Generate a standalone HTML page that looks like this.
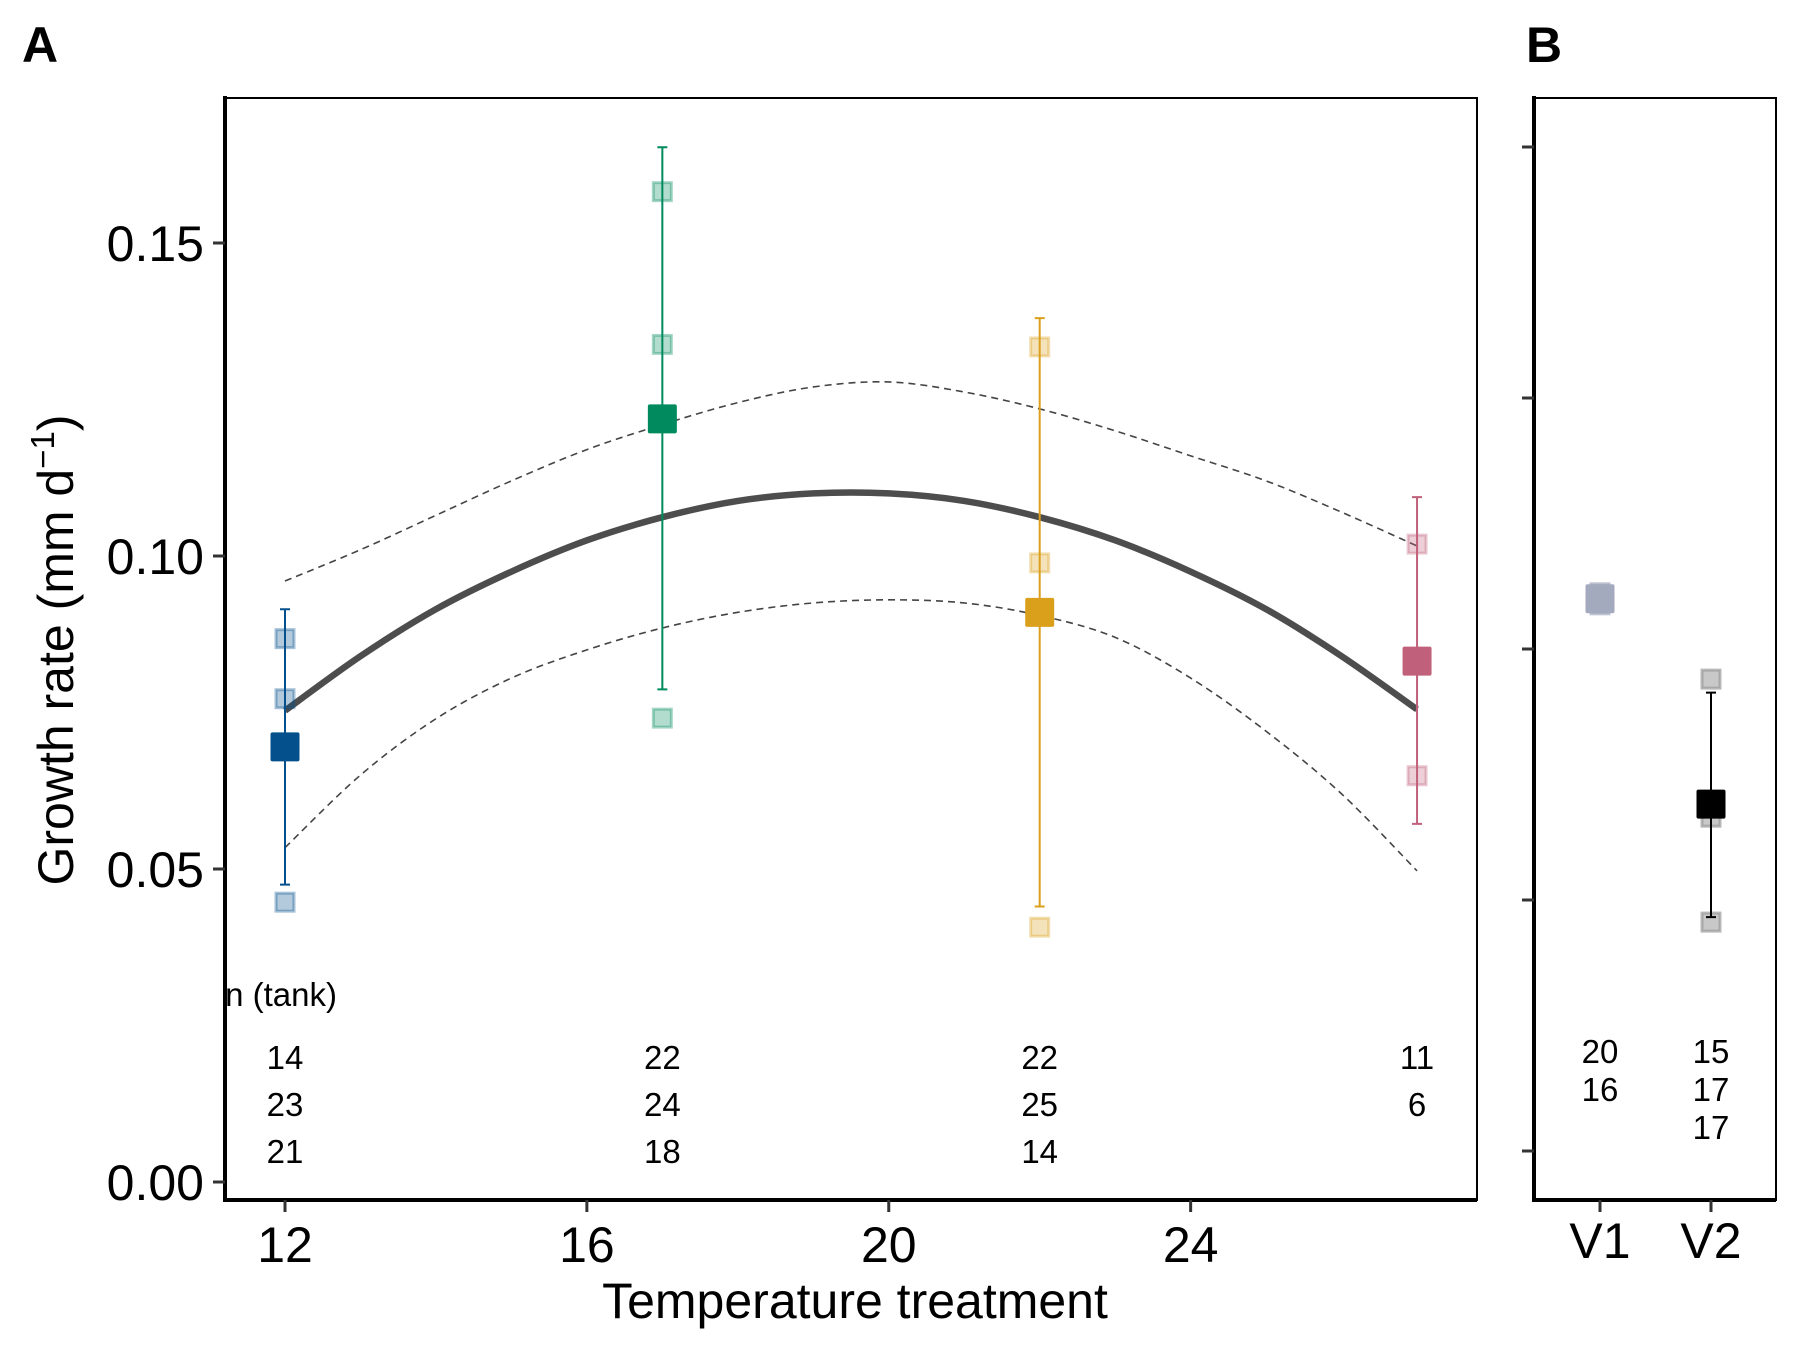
<!DOCTYPE html>
<html><head><meta charset="utf-8"><style>
html,body{margin:0;padding:0;background:#fff;}
svg{display:block;font-family:"Liberation Sans",Arial,sans-serif;}
</style></head><body>
<svg id="chart" width="1800" height="1350" viewBox="0 0 1800 1350" xmlns="http://www.w3.org/2000/svg">
<defs>
<clipPath id="clipA"><rect x="225" y="98" width="1252" height="1102"/></clipPath>
<clipPath id="clipB"><rect x="1534" y="98" width="242" height="1102"/></clipPath>
</defs>
<g id="panelA"></g>
<g id="panelB"></g>
</svg>
<script>
// ---- Panel A data ----
const tempCategories = [12, 17, 22, 27];
const tempColors = ["#03508c", "#008a5e", "#daa01c", "#c0607a"];
const tempMeans = [0.0695, 0.1219, 0.0910, 0.0832];
const tempErrLow = [0.0475, 0.0787, 0.0440, 0.0572];
const tempErrHigh = [0.0915, 0.1653, 0.1380, 0.1094];
const tempTank1 = [0.0868, 0.1582, 0.1334, 0.1019];
const tempTank2 = [0.0772, 0.1338, 0.0989, 0.0649];
const tempTank3 = [0.0447, 0.0741, 0.0407, null];
const nRow1 = ["14", "22", "22", "11"];
const nRow2 = ["23", "24", "25", "6"];
const nRow3 = ["21", "18", "14", ""];
const fitX = [12,13,14,15,16,17,18,19,20,21,22,23,24,25,26,27];
const fitMean = [0.0753,0.0840,0.0915,0.0975,0.1025,0.1062,0.1088,0.1100,0.1100,0.1088,0.1062,0.1025,0.0975,0.0915,0.0840,0.0755];
const fitUpper = [0.0960,0.1010,0.1065,0.1120,0.1170,0.1210,0.1245,0.1270,0.1278,0.1262,0.1235,0.1200,0.1160,0.1120,0.1070,0.1016];
const fitLower = [0.0534,0.0650,0.0740,0.0805,0.0850,0.0885,0.0910,0.0925,0.0930,0.0925,0.0905,0.0870,0.0805,0.0720,0.0620,0.0497];
const yTicksA = [0.00, 0.05, 0.10, 0.15];
const yTickLabelsA = ["0.00", "0.05", "0.10", "0.15"];
const xTicksA = [12, 16, 20, 24];
// ---- Panel B data ----
const vesselCategories = ["V1", "V2"];
const vesselColors = ["#a3aabd", "#000000"];
const vesselPointColors = ["#a3aabd", "#9a9a9a"];
const vesselMeans = [0.1100, 0.0691];
const vesselErrLow = [null, 0.0466];
const vesselErrHigh = [null, 0.0913];
const vesselTanks = [[0.1112, 0.1088], [0.0940, 0.0665, 0.0456]];
const vesselN = [["20", "16"], ["15", "17", "17"]];
const yTicksB = [0.00, 0.05, 0.10, 0.15, 0.20];

const NS = "http://www.w3.org/2000/svg";
function mk(tag, attrs, parent, text) {
  const e = document.createElementNS(NS, tag);
  for (const k in attrs) e.setAttribute(k, attrs[k]);
  if (text !== undefined) e.textContent = text;
  parent.appendChild(e);
  return e;
}
const xA = v => 285 + (v - 12) * 75.47;
const yA = v => 1182 - v * 6260;
const xB = i => [1600, 1711][i];
const yB = v => 1151 - v * 5020;

function smoothPath(xs, ys) {
  const pts = xs.map((x, i) => [xA(x), yA(ys[i])]);
  let d = "M" + pts[0][0] + "," + pts[0][1];
  for (let i = 0; i < pts.length - 1; i++) {
    const p0 = pts[Math.max(0, i - 1)], p1 = pts[i], p2 = pts[i + 1], p3 = pts[Math.min(pts.length - 1, i + 2)];
    const c1x = p1[0] + (p2[0] - p0[0]) / 6, c1y = p1[1] + (p2[1] - p0[1]) / 6;
    const c2x = p2[0] - (p3[0] - p1[0]) / 6, c2y = p2[1] - (p3[1] - p1[1]) / 6;
    d += " C" + c1x + "," + c1y + " " + c2x + "," + c2y + " " + p2[0] + "," + p2[1];
  }
  return d;
}

const svg = document.getElementById("chart");
const A = document.getElementById("panelA");
const B = document.getElementById("panelB");

let t;
t = mk("text", {x: 22, y: 62, "font-size": 50, "font-weight": "bold"}, svg, "A");


t = mk("text", {x: 1526, y: 62, "font-size": 50, "font-weight": "bold"}, svg, "B");



let fr = mk("rect", {x: 225, y: 98, width: 1252, height: 1102, fill: "none", stroke: "#000", "stroke-width": 2}, A);



const plotA = mk("g", {"clip-path": "url(#clipA)"}, A);



let p = mk("path", {d: smoothPath(fitX, fitUpper), fill: "none", stroke: "#444", "stroke-width": 1.6, "stroke-dasharray": "7,5"}, plotA);


p = mk("path", {d: smoothPath(fitX, fitLower), fill: "none", stroke: "#444", "stroke-width": 1.6, "stroke-dasharray": "7,5"}, plotA);


p = mk("path", {d: smoothPath(fitX, fitMean), fill: "none", stroke: "#4d4d4d", "stroke-width": 6.5}, plotA);



tempCategories.forEach((c, i) => {
  const g = mk("g", {}, plotA);
  
  
  const x = xA(c), col = tempColors[i];
  const tanks = [tempTank1[i], tempTank2[i], tempTank3[i]];
  tanks.forEach(v => {
    if (v === null) return;
    const r = mk("rect", {x: x - 9, y: yA(v) - 9, width: 18, height: 18, fill: col, "fill-opacity": 0.3, stroke: col, "stroke-opacity": 0.35, "stroke-width": 3}, g);
    
    
  });
  const eb = mk("path", {d: "M" + (x - 5) + "," + yA(tempErrHigh[i]) + "H" + (x + 5) + "M" + x + "," + yA(tempErrHigh[i]) + "V" + yA(tempErrLow[i]) + "M" + (x - 5) + "," + yA(tempErrLow[i]) + "H" + (x + 5), stroke: col, "stroke-width": 2, fill: "none"}, g);
  
  
  const m = mk("rect", {x: x - 14.5, y: yA(tempMeans[i]) - 14.5, width: 29, height: 29, rx: 2, fill: col}, g);
  
  
  [nRow1, nRow2, nRow3].forEach((row, r) => {
    if (!row[i]) return;
    const nt = mk("text", {x: x, y: 1069 + r * 47, "font-size": 33, "text-anchor": "middle"}, g, row[i]);
    
    
  });
});
t = mk("text", {x: 281, y: 1006, "font-size": 33, "text-anchor": "middle"}, plotA, "n (tank)");



let ax = mk("path", {d: "M225,96V1200H1477", stroke: "#000", "stroke-width": 4, fill: "none"}, A);


yTicksA.forEach((v, i) => {
  const tk = mk("line", {x1: 213, x2: 225, y1: yA(v), y2: yA(v), stroke: "#333", "stroke-width": 3}, A);
  
  
  const lb = mk("text", {x: 204, y: yA(v) + 18, "font-size": 50, "text-anchor": "end"}, A, yTickLabelsA[i]);
  
  
});
xTicksA.forEach(v => {
  const tk = mk("line", {x1: xA(v), x2: xA(v), y1: 1200, y2: 1212, stroke: "#333", "stroke-width": 3}, A);
  
  
  const lb = mk("text", {x: xA(v), y: 1262, "font-size": 50, "text-anchor": "middle"}, A, String(v));
  
  
});
t = mk("text", {x: 855, y: 1318, "font-size": 50, "text-anchor": "middle"}, A, "Temperature treatment");


const yt = mk("text", {x: 0, y: 0, "font-size": 50, "text-anchor": "middle", transform: "translate(73,650) rotate(-90)"}, A);


mk("tspan", {}, yt, "Growth rate (mm d");
mk("tspan", {dy: -19, "font-size": 33}, yt, "−1");
mk("tspan", {dy: 19}, yt, ")");

fr = mk("rect", {x: 1534, y: 98, width: 242, height: 1102, fill: "none", stroke: "#000", "stroke-width": 2}, B);


const plotB = mk("g", {"clip-path": "url(#clipB)"}, B);


vesselCategories.forEach((c, i) => {
  const g = mk("g", {}, plotB);
  
  
  const x = xB(i), col = vesselColors[i], pc = vesselPointColors[i];
  vesselTanks[i].forEach(v => {
    const r = mk("rect", {x: x - 9, y: yB(v) - 9, width: 18, height: 18, fill: pc, "fill-opacity": 0.55, stroke: pc, "stroke-opacity": 0.7, "stroke-width": 3}, g);
    
    
  });
  if (vesselErrHigh[i] !== null) {
    const eb = mk("path", {d: "M" + (x - 5) + "," + yB(vesselErrHigh[i]) + "H" + (x + 5) + "M" + x + "," + yB(vesselErrHigh[i]) + "V" + yB(vesselErrLow[i]) + "M" + (x - 5) + "," + yB(vesselErrLow[i]) + "H" + (x + 5), stroke: "#000", "stroke-width": 2, fill: "none"}, g);
    
    
  }
  const m = mk("rect", {x: x - 14.5, y: yB(vesselMeans[i]) - 14.5, width: 29, height: 29, rx: 2, fill: col}, g);
  
  
  vesselN[i].forEach((n, r) => {
    const nt = mk("text", {x: x, y: 1063 + r * 38, "font-size": 33, "text-anchor": "middle"}, g, n);
    
    
  });
});
ax = mk("path", {d: "M1534,96V1200H1776", stroke: "#000", "stroke-width": 4, fill: "none"}, B);


yTicksB.forEach(v => {
  const tk = mk("line", {x1: 1522, x2: 1534, y1: yB(v), y2: yB(v), stroke: "#333", "stroke-width": 3}, B);
  
  
});
vesselCategories.forEach((c, i) => {
  const tk = mk("line", {x1: xB(i), x2: xB(i), y1: 1200, y2: 1212, stroke: "#333", "stroke-width": 3}, B);
  
  
  const lb = mk("text", {x: xB(i), y: 1258, "font-size": 50, "text-anchor": "middle"}, B, c);
  
  
});
</script>
</body></html>
